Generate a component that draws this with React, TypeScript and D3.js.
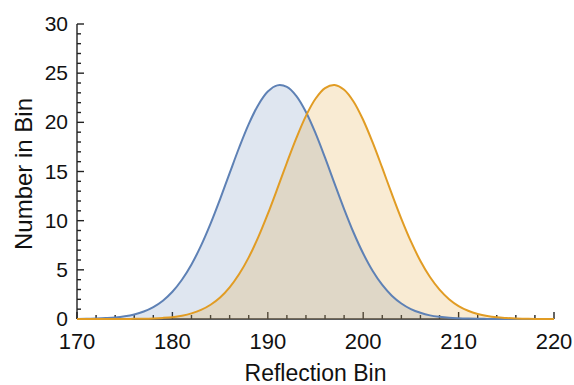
import React, { useEffect, useRef } from "react";
import * as d3 from "d3";

// bins along the x axis
const bins = d3.range(170, 221);

// counts, one per bin 170..220
const blueCounts = [
  0.01, 0.02, 0.05, 0.09, 0.15, 0.27, 0.46, 0.76, 1.21, 1.86,
  2.77, 3.99, 5.55, 7.46, 9.7, 12.2, 14.83, 17.44, 19.82, 21.77,
  23.13, 23.76, 23.6, 22.67, 21.05, 18.9, 16.41, 13.77, 11.18, 8.77,
  6.66, 4.88, 3.46, 2.37, 1.58, 1.01, 0.63, 0.37, 0.22, 0.12,
  0.07, 0.04, 0.02, 0.01, 0, 0, 0, 0, 0, 0, 0,
];
const orangeCounts = [
  0, 0, 0, 0, 0, 0, 0.02, 0.03, 0.06, 0.11,
  0.19, 0.34, 0.57, 0.92, 1.45, 2.19, 3.22, 4.57, 6.27, 8.32,
  10.68, 13.25, 15.89, 18.42, 20.66, 22.4, 23.48, 23.8, 23.32, 22.1,
  20.24, 17.93, 15.36, 12.72, 10.19, 7.89, 5.9, 4.27, 2.99, 2.02,
  1.32, 0.84, 0.51, 0.3, 0.17, 0.1, 0.05, 0.03, 0.01, 0.01, 0,
];

const xTicks = [170, 180, 190, 200, 210, 220];
const yTicks = [0, 5, 10, 15, 20, 25, 30];

const series = [
  { name: "blue", values: blueCounts, color: "#5e81b5" },
  { name: "orange", values: orangeCounts, color: "#e19c24" },
];

export default function App() {
  const ref = useRef<SVGSVGElement | null>(null);

  useEffect(() => {
    const margin = { top: 24, left: 77 };

    const svg = d3.select(ref.current);
    svg.selectAll("*").remove();

    const x = d3.scaleLinear().domain([170, 220]).range([margin.left, 554]);
    const y = d3.scaleLinear().domain([0, 30]).range([319, margin.top]);

    const font = "'Liberation Sans', Arial, Helvetica, sans-serif";

    // axes
    const axis = svg.append("g").attr("stroke", "#222").attr("stroke-width", 1.4);
    axis.append("line")
      .attr("x1", x(170)).attr("x2", x(220))
      .attr("y1", y(0)).attr("y2", y(0));
    axis.append("line")
      .attr("x1", x(170)).attr("x2", x(170))
      .attr("y1", y(0)).attr("y2", y(30));

    // x ticks every 2, longer every 10
    d3.range(170, 221, 2).forEach((v) => {
      const major = v % 10 === 0;
      axis.append("line")
        .attr("x1", x(v)).attr("x2", x(v))
        .attr("y1", y(0)).attr("y2", y(0) - (major ? 7 : 4));
    });
    // y ticks every 1, longer every 5
    d3.range(0, 31, 1).forEach((v) => {
      const major = v % 5 === 0;
      axis.append("line")
        .attr("x1", x(170)).attr("x2", x(170) + (major ? 7 : 4))
        .attr("y1", y(v)).attr("y2", y(v));
    });

    // tick labels
    svg.append("g").selectAll("text")
      .data(xTicks).enter().append("text")
      .attr("x", (d) => x(d))
      .attr("y", 349)
      .attr("text-anchor", "middle")
      .style("font-family", font)
      .style("font-size", "22px")
      .attr("fill", "#111")
      .text((d) => d);

    svg.append("g").selectAll("text")
      .data(yTicks).enter().append("text")
      .attr("x", 68)
      .attr("y", (d) => y(d))
      .attr("dy", "0.34em")
      .attr("text-anchor", "end")
      .style("font-family", font)
      .style("font-size", "21px")
      .attr("fill", "#111")
      .text((d) => d);

    // areas + lines
    const curve = d3.curveCatmullRom.alpha(0.5);
    const area = d3.area<number>()
      .x((d, i) => x(bins[i]))
      .y0(y(0))
      .y1((d) => y(d))
      .curve(curve);
    const line = d3.line<number>()
      .x((d, i) => x(bins[i]))
      .y((d) => y(d))
      .curve(curve);

    series.forEach((s) => {
      svg.append("path")
        .attr("d", area(s.values))
        .attr("fill", s.color)
        .attr("fill-opacity", 0.2);
    });
    series.forEach((s) => {
      svg.append("path")
        .attr("d", line(s.values))
        .attr("fill", "none")
        .attr("stroke", s.color)
        .attr("stroke-width", 2);
    });

    // axis labels
    svg.append("text")
      .attr("x", (x(170) + x(220)) / 2)
      .attr("y", 381)
      .attr("text-anchor", "middle")
      .style("font-family", font)
      .style("font-size", "23px")
      .attr("fill", "#111")
      .text("Reflection Bin");

    svg.append("text")
      .attr("transform", "translate(32," + 174 + ") rotate(-90)")
      .attr("text-anchor", "middle")
      .style("font-family", font)
      .style("font-size", "24px")
      .attr("fill", "#111")
      .text("Number in Bin");
  }, []);

  return (
    <svg
      ref={ref}
      width={574}
      height={385}
      style={{ position: "absolute", left: 0, top: 0, background: "#fff" }}
    />
  );
}
